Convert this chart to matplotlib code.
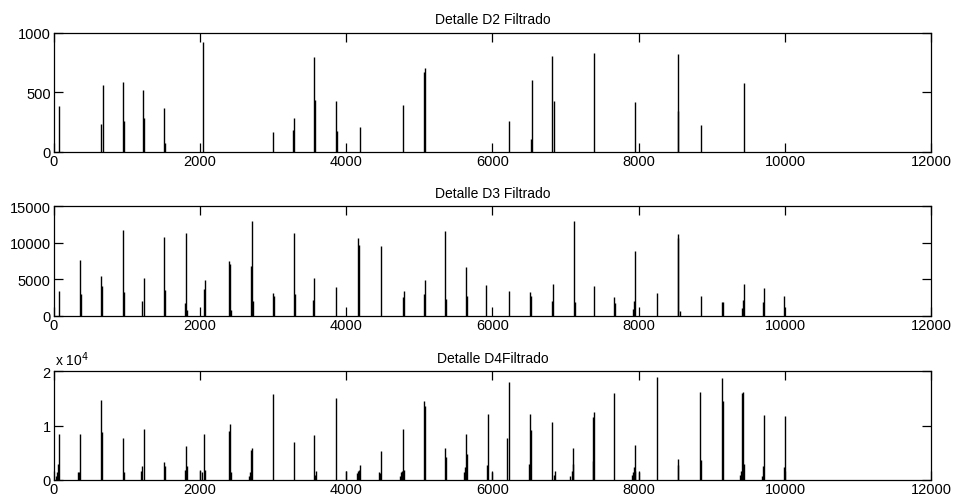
import matplotlib
matplotlib.use("Agg")
import matplotlib.pyplot as plt

plt.rcParams['font.family'] = ['Liberation Sans', 'DejaVu Sans']

# ---- data (sample index, amplitude) ----
d2_x = [78, 653, 671, 945, 959, 1228, 1242, 1516, 1530, 2046, 3004, 3278, 3292,
        3566, 3575, 3863, 3876, 4183, 4776, 5068, 5082, 6219, 6524, 6538,
        6820, 6834, 7390, 7950, 8533, 8542, 8843, 9431]
d2_y = [385, 233, 562, 590, 261, 517, 284, 371, 75, 927, 163, 183, 287,
        795, 435, 424, 171, 211, 393, 674, 702, 261, 107, 607,
        803, 430, 831, 421, 345, 823, 228, 576]

d3_x = [78, 365, 379, 653, 667, 945, 959, 1215, 1233, 1516, 1530, 1794, 1808, 1822,
        2055, 2068, 2397, 2411, 2424, 2699, 2712, 2726, 3004, 3018, 3292, 3306,
        3552, 3566, 3863, 4164, 4178, 4475, 4781, 4794, 5059, 5077, 5351, 5365,
        5644, 5657, 5913, 6219, 6515, 6528, 6811, 6825, 7112, 7121, 7390,
        7663, 7677, 7923, 7936, 7950, 8242, 8529, 8542, 8556, 8843, 9139, 9153,
        9408, 9422, 9435, 9695, 9709, 9990]
d3_y = [3380, 7680, 2925, 5484, 4113, 11745, 3245, 2011, 5210, 10785, 3519, 1690, 11288, 823,
        3656, 4890, 7495, 7037, 823, 6764, 12933, 2057, 3062, 2696, 11288, 2925,
        2194, 5118, 3885, 10648, 9734, 9597, 2514, 3382, 2925, 4890, 11562, 2285,
        6718, 2650, 4159, 3427, 3245, 2696, 2057, 4296, 12933, 1874, 4022,
        2514, 1737, 914, 2011, 8820, 3062, 11197, 10602, 686, 2650, 1828, 1828,
        1005, 2148, 4296, 1828, 3747, 2650]

d4_x = [37, 50, 64, 78, 329, 347, 365, 653, 667, 945, 959, 1201, 1215, 1233,
        1516, 1530, 1794, 1808, 1822, 2005, 2027, 2055, 2068, 2397, 2411, 2424,
        2671, 2685, 2699, 2712, 3004, 3292, 3566, 3580, 3593, 3863, 4000,
        4151, 4164, 4178, 4192, 4443, 4461, 4475, 4740, 4753, 4767, 4781, 4794,
        5064, 5077, 5351, 5365, 5612, 5626, 5639, 5653, 5918, 5932, 6000,
        6200, 6219, 6501, 6515, 6528, 6820, 6834, 6848, 7066, 7080, 7094, 7107,
        7367, 7380, 7394, 7667, 7904, 7918, 7932, 7945, 7954, 8000, 8242,
        8529, 8542, 8833, 8843, 9139, 9148, 9385, 9399, 9412, 9426, 9444,
        9681, 9695, 9709, 9982, 9996]
d4_y = [740, 1350, 2890, 8430, 1476, 1476, 8430, 14760, 8860, 7630, 1476, 1660, 2520, 9290,
        3320, 2580, 1845, 6270, 2580, 1720, 1500, 8430, 1720, 9040, 10270, 1476,
        740, 1476, 5470, 5840, 15800, 7010, 8240, 920, 1660, 15000, 1660,
        1230, 1660, 1845, 2770, 1476, 1230, 5230, 740, 1476, 1660, 9290, 1720,
        14580, 13530, 5840, 4240, 1350, 2280, 8430, 4740, 2770, 12120, 1500,
        7630, 18080, 2890, 12120, 9230, 10700, 920, 1660, 740, 1540, 2890, 5840,
        3510, 11500, 12480, 15990, 860, 1350, 2400, 1660, 6400, 1500, 18880,
        2710, 3810, 16240, 3630, 18700, 14580, 860, 1660, 15990, 16240, 2890,
        740, 2580, 11930, 2400, 11690]

titles = ["Detalle D2 Filtrado", "Detalle D3 Filtrado", "Detalle D4Filtrado"]
xticks = [0, 2000, 4000, 6000, 8000, 10000, 12000]
d2_yticks = [0, 500, 1000]
d3_yticks = [0, 5000, 10000, 15000]
d4_yticks = [0, 10000, 20000]
d4_yticklabels = ["0", "1", "2"]

W, H = 956, 502
fig = plt.figure(figsize=(W / 100, H / 100), dpi=100)

def pos(left, right, top, bottom):
    return [left / W, 1 - bottom / H, (right - left) / W, (bottom - top) / H]

axes = [
    fig.add_axes(pos(53.5, 931.5, 34, 152.7)),
    fig.add_axes(pos(53.5, 931.5, 207.3, 316.7)),
    fig.add_axes(pos(53.5, 931.5, 372.3, 480.7)),
]

data = [(d2_x, d2_y, d2_yticks, None, 1000),
        (d3_x, d3_y, d3_yticks, None, 15000),
        (d4_x, d4_y, d4_yticks, d4_yticklabels, 20000)]

for ax, (xs, ys, yt, ytl, ymax), title in zip(axes, data, titles):
    ax.vlines(xs, 0, ys, colors='black', linewidth=1.0)
    ax.set_xlim(0, 12000)
    ax.set_ylim(0, ymax)
    ax.set_xticks(xticks)
    ax.set_xticklabels([str(t) for t in xticks])
    ax.set_yticks(yt)
    if ytl is not None:
        ax.set_yticklabels(ytl)
    else:
        ax.set_yticklabels([str(t) for t in yt])
    ax.tick_params(direction='in', length=6.5, width=0.9, top=True, right=True,
                   labelsize=10.5, pad=2, colors='black')
    for s in ax.spines.values():
        s.set_linewidth(0.9)
        s.set_color('black')
    ax.set_title(title, fontsize=10, pad=7)

axes[2].text(0.002, 1.03, r'x 10$^{4}$', transform=axes[2].transAxes,
             fontsize=10, ha='left', va='bottom')

fig.savefig("out.png", dpi=100, facecolor='white')
